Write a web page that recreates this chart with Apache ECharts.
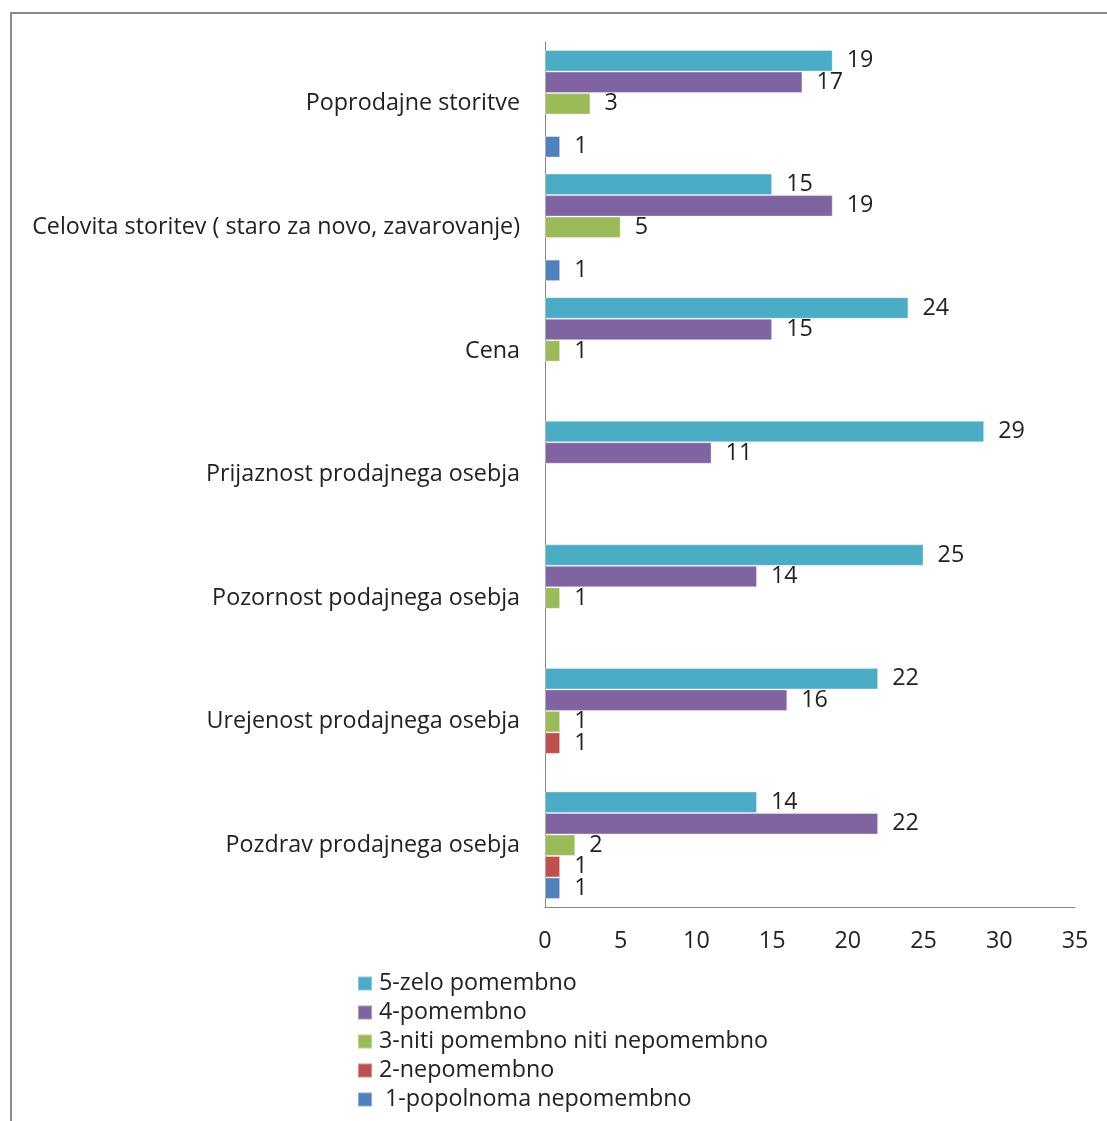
<!DOCTYPE html>
<html>
<head>
<meta charset="utf-8">
<script src="https://cdn.jsdelivr.net/npm/echarts@6/dist/echarts.min.js"></script>
<style>
  html, body { margin: 0; padding: 0; background: #fff; }
  #chart { width: 1107px; height: 1121px; }
</style>
</head>
<body>
<div id="chart"></div>
<script>
// categories, bottom to top
const categories = [
  'Pozdrav prodajnega osebja',
  'Urejenost prodajnega osebja',
  'Pozornost podajnega osebja',
  'Prijaznost prodajnega osebja',
  'Cena',
  'Celovita storitev ( staro za novo, zavarovanje)',
  'Poprodajne storitve'
]
const seriesNames = [
  '5-zelo pomembno',
  '4-pomembno',
  '3-niti pomembno niti nepomembno',
  '2-nepomembno',
  ' 1-popolnoma nepomembno'
]
const zeloPomembno = [14, 22, 25, 29, 24, 15, 19]
const pomembno = [22, 16, 14, 11, 15, 19, 17]
const nitiNiti = [2, 1, 1, null, 1, 5, 3]
const nepomembno = [1, 1, null, null, null, null, null]
const popolnomaNepomembno = [1, null, null, null, null, 1, 1]
const xTicks = [0, 5, 10, 15, 20, 25, 30, 35]

const colors = ['#4BACC6', '#8064A2', '#9BBB59', '#C0504D', '#4F81BD']
const values = [zeloPomembno, pomembno, nitiNiti, nepomembno, popolnomaNepomembno]
const font = '"Open Sans", "Noto Sans", sans-serif'
const fs = 23.3

const chart = echarts.init(document.getElementById('chart'))
let option = {
  animation: false,
  color: colors,
  textStyle: { fontFamily: font },
  graphic: [{
    type: 'rect',
    shape: { x: 11, y: 13, width: 1110, height: 1120 },
    style: { fill: 'none', stroke: '#8a8a8a', lineWidth: 2 }
  }],
  legend: {
    orient: 'vertical',
    left: 357,
    top: 972,
    height: 149,
    padding: 0,
    data: seriesNames,
    icon: 'rect',
    itemWidth: 14,
    itemHeight: 14,
    itemGap: 6,
    textStyle: { fontSize: fs, color: '#222', fontFamily: font, padding: [0, 0, 0, 2] }
  },
  grid: {
    left: 545,
    right: 32,
    top: 42,
    bottom: 214
  },
  xAxis: {
    type: 'value',
    min: 0,
    max: 35,
    interval: 5,
    splitLine: { show: false },
    axisLine: { show: true, lineStyle: { color: '#868686' } },
    axisTick: { show: false },
    axisLabel: {
      margin: 23,
      fontSize: fs,
      color: '#222',
      fontFamily: font,
      formatter: v => xTicks.includes(v) ? String(v) : ''
    }
  },
  yAxis: {
    type: 'category',
    data: categories,
    axisLine: { lineStyle: { color: '#868686' } },
    axisTick: { show: false },
    axisLabel: { margin: 25, fontSize: fs, color: '#222', fontFamily: font }
  },
  series: seriesNames.map((name, i) => ({
    name: name,
    type: 'bar',
    data: values[i],
    barGap: '0%',
    barCategoryGap: '13%',
    itemStyle: { borderColor: 'rgba(255,255,255,0.35)', borderWidth: 1 },
    label: {
      show: true,
      position: 'right',
      distance: 14,
      fontSize: fs,
      color: '#222',
      fontFamily: font
    }
  }))
}
chart.setOption(option)
</script>
</body>
</html>
